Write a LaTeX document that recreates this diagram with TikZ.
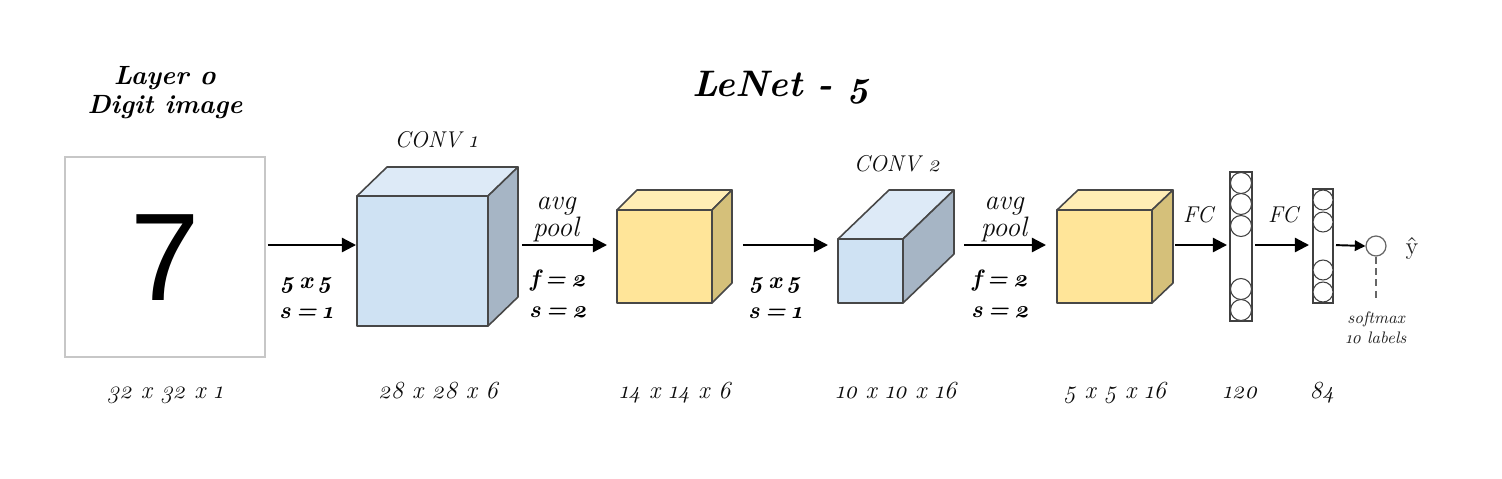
\documentclass[tikz,border=0pt]{standalone}
\usepackage{fontspec}
\setmainfont{Latin Modern Roman}[Numbers=OldStyle]
\newfontfamily\arialf{Liberation Sans}
\usetikzlibrary{arrows.meta,calc}
\newlength\pxl \setlength\pxl{0.5690551pt}
\newcommand\os[1]{#1}
\newcommand\tsp{\hspace{0.22em}}
\definecolor{bfront}{RGB}{207,226,243}
\definecolor{btop}{RGB}{221,234,247}
\definecolor{bside}{RGB}{166,181,197}
\definecolor{yfront}{RGB}{255,229,153}
\definecolor{ytop}{RGB}{255,237,181}
\definecolor{yside}{RGB}{213,192,122}
\newcommand\cubefaces[5]{%
  \draw[edgeline,fill=#4] (#1.north west) -- ++(#2,#3) -- ($(#1.north east)+(#2,#3)$) -- (#1.north east) -- cycle;
  \draw[edgeline,fill=#5] (#1.north east) -- ++(#2,#3) -- ($(#1.south east)+(#2,#3)$) -- (#1.south east) -- cycle;
  \coordinate (#1-back) at ($(#1.east)+(#2,#3)$);}
\begin{document}
\begin{tikzpicture}[x=0.02cm,y=-0.02cm,
  edgeline/.style={draw=black!72,line width=0.9pt,line join=round},
  facebox/.style={edgeline,rectangle,inner sep=0pt,outer sep=0pt},
  arr/.style={line width=1.3pt,-{Triangle[length=8pt,width=8pt]}},
  sarr/.style={line width=1.1pt,-{Triangle[length=6pt,width=6pt]}},
  lbl/.style={font=\fontsize{14}{16}\selectfont\itshape,text=black!95,inner sep=0pt,anchor=base},
  blbl/.style={font=\fontsize{13.5}{16}\selectfont\bfseries\itshape,inner sep=0pt,anchor=base},
  pltxt/.style={font=\fontsize{16}{18}\selectfont\itshape,text=black!95,inner sep=0pt,anchor=base},
  captxt/.style={font=\fontsize{13}{15}\selectfont\itshape,text=black!95,inner sep=0pt,anchor=base},
  hdtxt/.style={font=\fontsize{15}{17}\selectfont\bfseries\itshape,inner sep=0pt,anchor=base},
  neuron/.style={circle,draw=black!75,line width=0.6pt,fill=white,minimum size=0.42cm,inner sep=0pt},
  colbox/.style={rectangle,draw=black!75,line width=0.8pt,fill=white,inner sep=0pt,outer sep=0pt},
  tinytxt/.style={font=\fontsize{9.5}{11}\selectfont\itshape,text=black!85,inner sep=0pt,anchor=base}]
\useasboundingbox[fill=white] (0,0) rectangle (1502,478);
\coordinate (ar) at (0,245);

% titles
\node[hdtxt] (l0a) at (165,84) {Layer \os{0}};
\node[hdtxt] (l0b) at (165,113) {Digit image};
\node[font=\fontsize{21}{24}\selectfont\bfseries\itshape,inner sep=0pt,anchor=base] (title) at (781,96) {LeNet - \os{5}};

% input image
\node[draw=black!22,line width=1pt,minimum width=4cm,minimum height=4cm,inner sep=0pt,outer sep=0pt] (img) at (165,257) {};
\node[font=\arialf\fontsize{71}{71}\selectfont,inner sep=0pt] (seven) at (165,258) {7};

% conv1
\node[facebox,fill=bfront,minimum width=2.62cm,minimum height=2.6cm] (c1) at (422.5,261) {};
\cubefaces{c1}{30}{-29}{btop}{bside}
\node[captxt] (c1l) at (436,147) {CONV \os{1}};

% pool1
\node[facebox,fill=yfront,minimum width=1.9cm,minimum height=1.86cm] (p1) at (664.5,256.5) {};
\cubefaces{p1}{20}{-20}{ytop}{yside}

% conv2
\node[facebox,fill=bfront,minimum width=1.3cm,minimum height=1.28cm] (c2) at (870.5,271) {};
\cubefaces{c2}{51}{-49}{btop}{bside}
\node[captxt] (c2l) at (897,171) {CONV \os{2}};

% pool2
\node[facebox,fill=yfront,minimum width=1.9cm,minimum height=1.86cm] (p2) at (1104.5,256.5) {};
\cubefaces{p2}{21}{-20}{ytop}{yside}

% FC1
\node[colbox,minimum width=0.44cm,minimum height=2.98cm] (f1) at (1241,246.5) {};
\foreach \yy [count=\i] in {183,204,226,289,310}
  \node[neuron] (f1n\i) at (1241,\yy) {};
% FC2
\node[colbox,minimum width=0.4cm,minimum height=2.28cm] (f2) at (1323,246) {};
\foreach \yy [count=\i] in {200,222,270,292}
  \node[neuron,minimum size=0.4cm] (f2n\i) at (1323,\yy) {};
% output
\node[circle,draw=black!60,line width=0.7pt,minimum size=0.4cm,inner sep=0pt] (out) at (1376,246) {};
\coordinate (dend) at (1376,302);
\draw[black!60,line width=0.7pt,dash pattern=on 4pt off 2.5pt] (out.south) -- (dend);
\node[tinytxt] (sm) at (1376,323) {softmax};
\node[tinytxt] (tl) at (1376,343) {\os{10} labels};
\node[font=\fontsize{14}{16}\selectfont,text=black!85,inner sep=0pt,anchor=base] (yhat) at (1412,254) {\^{y}};

% arrows
\draw[arr,shorten <=3\pxl,shorten >=1\pxl] (img.east |- ar) -- (c1.west |- ar);
\draw[arr,shorten <=4\pxl,shorten >=10\pxl] (c1-back |- ar) -- (p1.west |- ar);
\draw[arr,shorten <=11\pxl,shorten >=10\pxl] (p1-back |- ar) -- (c2.west |- ar);
\draw[arr,shorten <=10\pxl,shorten >=11\pxl] (c2-back |- ar) -- (p2.west |- ar);
\draw[arr,shorten <=2\pxl,shorten >=3\pxl] (p2-back |- ar) -- (f1.west |- ar);
\draw[arr,shorten <=3\pxl,shorten >=4\pxl] (f1.east |- ar) -- (f2.west |- ar);
\draw[sarr,shorten <=3\pxl,shorten >=0\pxl] (f2.east |- ar) -- (out.west);

% arrow labels
\node[blbl] (a1a) at (306,288) {\os{5}\tsp x\tsp\os{5}};
\node[blbl] (a1b) at (306,318) {s\tsp=\tsp\os{1}};
\node[pltxt] (a2a) at (556,209) {avg};
\node[pltxt] (a2b) at (556,236) {pool};
\node[blbl] (a2c) at (558,286) {f\tsp=\tsp\os{2}};
\node[blbl] (a2d) at (558,317) {s\tsp=\tsp\os{2}};
\node[blbl] (a3a) at (775,288) {\os{5}\tsp x\tsp\os{5}};
\node[blbl] (a3b) at (775,318) {s\tsp=\tsp\os{1}};
\node[pltxt] (a4a) at (1004,209) {avg};
\node[pltxt] (a4b) at (1004,236) {pool};
\node[blbl] (a4c) at (1000,286) {f\tsp=\tsp\os{2}};
\node[blbl] (a4d) at (1000,317) {s\tsp=\tsp\os{2}};
\node[captxt] (fc1l) at (1198,222) {FC};
\node[captxt] (fc2l) at (1283,222) {FC};

% dimension labels
\node[lbl] (d0) at (165,398) {\os{32} x \os{32} x \os{1}};
\node[lbl] (d1) at (438,398) {\os{28} x \os{28} x \os{6}};
\node[lbl] (d2) at (675,398) {\os{14} x \os{14} x \os{6}};
\node[lbl] (d3) at (896,398) {\os{10} x \os{10} x \os{16}};
\node[lbl] (d4) at (1115,398) {\os{5} x \os{5} x \os{16}};
\node[lbl] (d5) at (1240,398) {\os{120}};
\node[lbl] (d6) at (1322,398) {\os{84}};
\end{tikzpicture}
\end{document}
